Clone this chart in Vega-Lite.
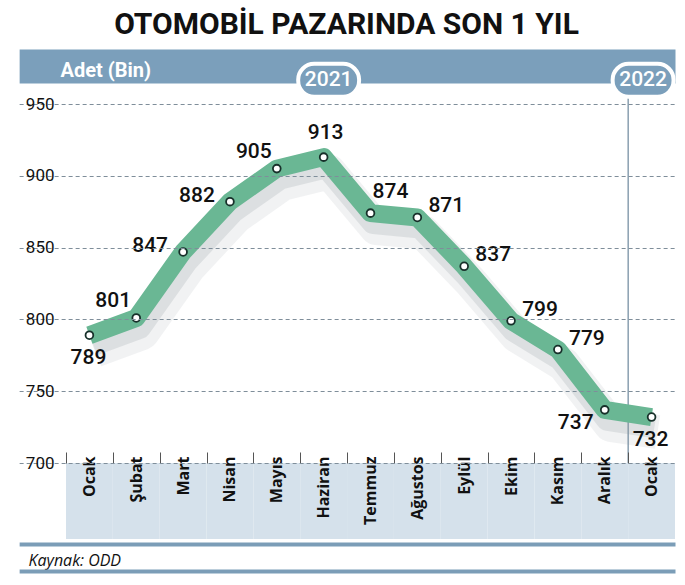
{
  "$schema": "https://vega.github.io/schema/vega-lite/v6.json",
  "autosize": {"type": "none"},
  "width": 609,
  "height": 359,
  "padding": {"left": 66, "top": 104, "right": 10, "bottom": 122},
  "background": "#ffffff",
  "config": {
    "view": {"stroke": null},
    "text": {"font": "Roboto"}
  },
  "title": {
    "text": "OTOMOBİL PAZARINDA SON 1 YIL",
    "font": "Roboto",
    "fontSize": 30,
    "fontWeight": "bold",
    "color": "#111111",
    "anchor": "middle",
    "frame": "group",
    "dx": -24,
    "offset": 20
  },
  "datasets": {
    "satis": [
      {"ay": "Ocak 2021", "adet": 789},
      {"ay": "Şubat", "adet": 801},
      {"ay": "Mart", "adet": 847},
      {"ay": "Nisan", "adet": 882},
      {"ay": "Mayıs", "adet": 905},
      {"ay": "Haziran", "adet": 913},
      {"ay": "Temmuz", "adet": 874},
      {"ay": "Ağustos", "adet": 871},
      {"ay": "Eylül", "adet": 837},
      {"ay": "Ekim", "adet": 799},
      {"ay": "Kasım", "adet": 779},
      {"ay": "Aralık", "adet": 737},
      {"ay": "Ocak 2022", "adet": 732}
    ],
    "yillar": [
      {"ay": "Haziran", "yil": "2021"},
      {"ay": "Ocak 2022", "yil": "2022"}
    ]
  },
  "resolve": {"axis": {"x": "independent"}},
  "layer": [
    {
      "data": {"name": "satis"},
      "mark": {"type": "bar", "color": "#d5e1eb"},
      "encoding": {
        "x": {
          "field": "ay", "type": "nominal", "sort": null,
          "scale": {"type": "band", "paddingInner": 0, "paddingOuter": 0, "range": [-46.86, 609],
            "domain": ["bos", "Ocak 2021", "Şubat", "Mart", "Nisan", "Mayıs", "Haziran", "Temmuz", "Ağustos", "Eylül", "Ekim", "Kasım", "Aralık", "Ocak 2022"]},
          "axis": {
            "orient": "bottom", "title": null, "domain": false, "grid": false,
            "values": ["Ocak 2021", "Şubat", "Mart", "Nisan", "Mayıs", "Haziran", "Temmuz", "Ağustos", "Eylül", "Ekim", "Kasım", "Aralık", "Ocak 2022"],
            "tickSize": -11, "tickWidth": 1, "tickColor": "#555555",
            "tickOffset": -23.43, "labelOffset": 23.43,
            "labelExpr": "datum.label == null ? '' : split(datum.label, ' ')[0]",
            "labelAngle": -90, "labelAlign": "right", "labelBaseline": "middle",
            "labelPadding": 4, "labelFont": "Open Sans", "labelFontWeight": "bold",
            "labelFontSize": 16, "labelColor": "#111111",
            "zindex": 1
          }
        },
        "y": {
          "datum": 700,
          "scale": {"domain": [700, 950], "zero": false, "nice": false},
          "axis": {
            "values": [700, 750, 800, 850, 900, 950],
            "domain": false, "ticks": false,
            "grid": true, "gridDash": [4, 3], "gridColor": "#7f8e9a", "gridWidth": 1,
            "labelFont": "Roboto", "labelFontSize": 17,
            "labelColor": "#111111", "labelPadding": 12,
            "title": "Adet (Bin)",
            "titleAngle": 0, "titleAlign": "left", "titleBaseline": "alphabetic",
            "titleX": -6, "titleY": -28,
            "titleFont": "Roboto", "titleFontSize": 20,
            "titleFontWeight": "bold", "titleColor": "#ffffff",
            "zindex": 2
          }
        },
        "y2": {"datum": 647}
      }
    },
    {
      "data": {"name": "satis"},
      "transform": [{"filter": {"field": "ay", "equal": "Ocak 2022"}}],
      "mark": {"type": "rule", "stroke": "#6d879c", "strokeWidth": 1.2},
      "encoding": {
        "x": {"field": "ay", "type": "nominal", "bandPosition": 0,
          "scale": {"type": "band", "paddingInner": 0, "paddingOuter": 0},
          "axis": {
            "orient": "bottom", "offset": 81, "labels": false, "ticks": false, "grid": false,
            "domain": true, "domainWidth": 4, "domainColor": "#7b9db7",
            "title": "Kaynak: ODD", "titleFont": "Open Sans", "titleFontStyle": "italic",
            "titleFontWeight": "normal", "titleFontSize": 16, "titleColor": "#111111",
            "titleAlign": "left", "titleBaseline": "alphabetic", "titleX": -38, "titleY": 21
          }
        },
        "y": {"datum": 700, "scale": {"domain": [700, 950], "zero": false, "nice": false}},
        "y2": {"datum": 955}
      }
    },
    {
      "data": {"name": "yillar"},
      "transform": [{"filter": {"field": "yil", "equal": "2021"}}],
      "mark": {"type": "bar", "width": {"band": 1.3}, "cornerRadius": 16, "fill": "#7b9fbb",
        "stroke": "#ffffff", "strokeWidth": 4, "xOffset": 5},
      "encoding": {
        "x": {
          "field": "ay", "type": "nominal",
          "scale": {"type": "band", "paddingInner": 0, "paddingOuter": 0},
          "axis": {
            "orient": "top", "offset": 38, "labels": false, "ticks": false, "grid": false,
            "domain": true, "domainWidth": 34, "domainColor": "#7b9fbb", "title": null
          }
        },
        "y": {"datum": 955, "scale": {"domain": [700, 950], "zero": false, "nice": false}},
        "y2": {"datum": 978}
      }
    },
    {
      "data": {"name": "yillar"},
      "transform": [{"filter": {"field": "yil", "equal": "2022"}}],
      "mark": {"type": "bar", "width": {"band": 1.3}, "cornerRadius": 16, "fill": "#7b9fbb",
        "stroke": "#ffffff", "strokeWidth": 4, "xOffset": -8.5},
      "encoding": {
        "x": {
          "field": "ay", "type": "nominal",
          "scale": {"type": "band", "paddingInner": 0, "paddingOuter": 0},
          "axis": {
            "orient": "bottom", "offset": 108, "labels": false, "ticks": false, "grid": false,
            "domain": true, "domainWidth": 4, "domainColor": "#7b9db7", "title": null
          }
        },
        "y": {"datum": 955, "scale": {"domain": [700, 950], "zero": false, "nice": false}},
        "y2": {"datum": 978}
      }
    },
    {
      "data": {"name": "yillar"},
      "transform": [{"filter": {"field": "yil", "equal": "2021"}}],
      "mark": {"type": "text", "color": "#ffffff", "fontSize": 21, "fontWeight": 500, "xOffset": 5, "baseline": "middle"},
      "encoding": {
        "x": {"field": "ay", "type": "nominal",
          "scale": {"type": "band", "paddingInner": 0, "paddingOuter": 0}, "axis": null},
        "y": {"datum": 966.5, "scale": {"domain": [700, 950], "zero": false, "nice": false}},
        "text": {"field": "yil", "type": "nominal"}
      }
    },
    {
      "data": {"name": "yillar"},
      "transform": [{"filter": {"field": "yil", "equal": "2022"}}],
      "mark": {"type": "text", "color": "#ffffff", "fontSize": 21, "fontWeight": 500, "xOffset": -8.5, "baseline": "middle"},
      "encoding": {
        "x": {"field": "ay", "type": "nominal",
          "scale": {"type": "band", "paddingInner": 0, "paddingOuter": 0}, "axis": null},
        "y": {"datum": 966.5, "scale": {"domain": [700, 950], "zero": false, "nice": false}},
        "text": {"field": "yil", "type": "nominal"}
      }
    },
    {
      "data": {"name": "satis"},
      "layer": [
        {"mark": {"type": "line", "stroke": "#8e969c", "strokeWidth": 34, "opacity": 0.12, "xOffset": 6, "yOffset": 15, "strokeJoin": "round"}},
        {"mark": {"type": "line", "stroke": "#8e969c", "strokeWidth": 24, "opacity": 0.2, "xOffset": 3, "yOffset": 9, "strokeJoin": "round"}},
        {"mark": {"type": "line", "stroke": "#6ab794", "strokeWidth": 18, "strokeJoin": "round"}},
        {"mark": {"type": "point", "shape": "circle", "filled": true, "fill": "#ffffff", "stroke": "#17302a", "strokeWidth": 1.8, "size": 60, "opacity": 1}},
        {
          "transform": [{"filter": {"field": "ay", "oneOf": ["Ocak 2021", "Ocak 2022"]}}],
          "mark": {"type": "text", "fontSize": 21, "fontWeight": 500, "color": "#111111", "baseline": "middle", "dx": -1, "dy": 23}
        },
        {
          "transform": [{"filter": {"field": "ay", "equal": "Haziran"}}],
          "mark": {"type": "text", "fontSize": 21, "fontWeight": 500, "color": "#111111", "baseline": "middle", "dx": 2, "dy": -24}
        },
        {
          "transform": [{"filter": {"field": "ay", "oneOf": ["Şubat", "Mayıs"]}}],
          "mark": {"type": "text", "fontSize": 21, "fontWeight": 500, "color": "#111111", "baseline": "middle", "dx": -23, "dy": -17}
        },
        {
          "transform": [{"filter": {"field": "ay", "oneOf": ["Mart", "Nisan"]}}],
          "mark": {"type": "text", "fontSize": 21, "fontWeight": 500, "color": "#111111", "baseline": "middle", "dx": -33, "dy": -6}
        },
        {
          "transform": [{"filter": {"field": "ay", "equal": "Temmuz"}}],
          "mark": {"type": "text", "fontSize": 21, "fontWeight": 500, "color": "#111111", "baseline": "middle", "dx": 20, "dy": -21}
        },
        {
          "transform": [{"filter": {"field": "ay", "oneOf": ["Ağustos", "Eylül", "Ekim", "Kasım"]}}],
          "mark": {"type": "text", "fontSize": 21, "fontWeight": 500, "color": "#111111", "baseline": "middle", "dx": 29, "dy": -11}
        },
        {
          "transform": [{"filter": {"field": "ay", "equal": "Aralık"}}],
          "mark": {"type": "text", "fontSize": 21, "fontWeight": 500, "color": "#111111", "baseline": "middle", "dx": -29, "dy": 13}
        }
      ],
      "encoding": {
        "x": {"field": "ay", "type": "nominal", "sort": null,
          "scale": {"type": "band", "paddingInner": 0, "paddingOuter": 0}, "axis": null},
        "y": {"field": "adet", "type": "quantitative",
          "scale": {"domain": [700, 950], "zero": false, "nice": false}},
        "text": {"field": "adet", "type": "quantitative"}
      }
    }
  ]
}
